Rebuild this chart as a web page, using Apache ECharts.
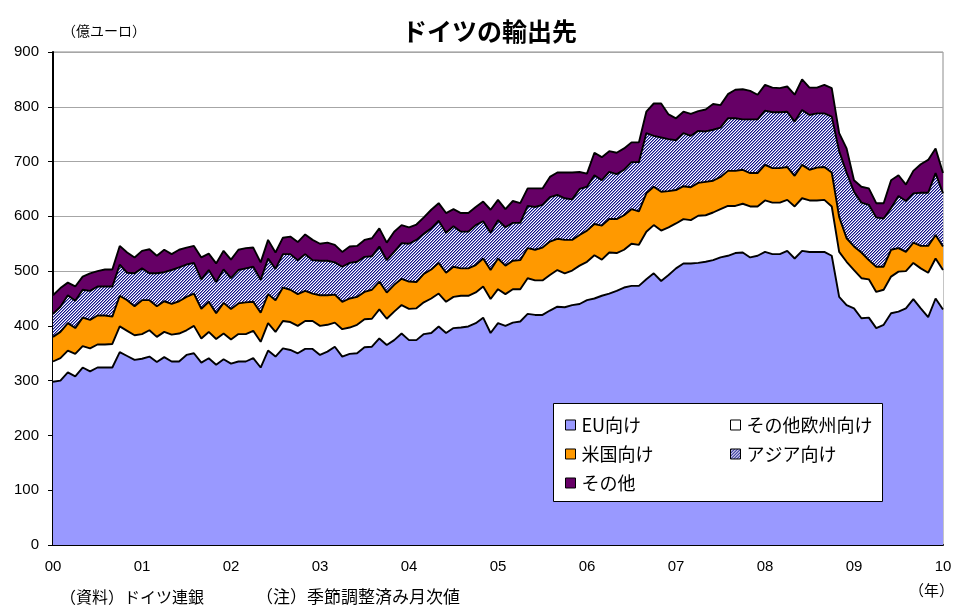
<!DOCTYPE html>
<html><head><meta charset="utf-8">
<script src="https://cdn.jsdelivr.net/npm/echarts@6/dist/echarts.min.js"></script>
<style>html,body{margin:0;padding:0;background:#fff}#c{width:955px;height:606px}</style>
</head><body><div id="c"></div>
<script>
// Tick labels (years) and monthly categories Jan 2000 .. Jan 2010
const yearLabels = ['00','01','02','03','04','05','06','07','08','09','10'];
const months = [];
for (let y = 2000; y <= 2010; y++) {
  for (let m = 1; m <= 12; m++) {
    if (y === 2010 && m > 1) break;
    months.push(y + '/' + m);
  }
}
const seriesNames = ['EU向け', 'その他欧州向け', '米国向け', 'アジア向け', 'その他'];

// 億ユーロ, seasonally adjusted monthly values
const eu = [
298,300,315,308,324,317,324,324,324,352,345,338,
340,344,334,343,335,335,347,350,333,341,329,339,
331,335,335,341,324,355,344,359,356,350,358,358,
347,353,362,344,349,350,361,362,377,365,374,386,
374,374,385,387,399,387,396,397,399,405,415,387,
405,400,406,408,422,420,420,428,435,434,438,440,
447,450,455,459,464,470,473,473,485,496,482,493,
505,514,514,515,517,520,525,528,533,534,525,528,
535,531,531,537,523,537,535,535,535,528,453,438,
432,414,415,396,402,423,426,432,449,432,416,450,
430];
const otherEurope = [
37,41,40,41,39,42,42,42,43,47,46,45,
45,48,46,46,49,51,45,50,44,48,47,47,
44,50,50,50,47,50,45,50,51,50,51,51,
53,49,44,50,48,52,51,51,53,48,52,52,
57,58,58,63,60,57,57,58,56,56,57,62,
62,58,61,59,65,63,63,65,67,62,63,70,
70,79,66,75,69,69,77,75,87,88,92,87,
82,81,79,86,85,87,88,91,86,89,93,90,
94,94,94,93,95,96,94,94,95,90,82,79,
70,73,70,66,64,67,73,68,66,73,81,73,
72];
const usa = [
45,48,50,47,52,52,53,53,50,56,56,53,
62,55,56,56,56,59,61,59,54,55,47,56,
56,56,58,53,53,53,58,61,59,58,55,50,
56,54,51,50,53,51,50,53,51,48,49,48,
50,48,52,53,56,53,55,50,50,50,51,53,
56,52,52,53,55,56,60,61,57,61,56,56,
57,57,62,61,62,63,63,61,70,70,71,66,
61,60,60,60,61,58,59,64,64,62,61,61,
65,63,63,60,56,61,56,60,60,62,64,43,
43,47,35,46,42,49,43,35,37,41,49,43,
43];
const asia = [
42,46,51,50,51,53,53,53,55,57,50,60,
58,49,60,53,62,62,59,56,54,58,57,61,
56,61,62,64,60,65,57,61,65,62,67,61,
63,63,59,64,65,64,64,61,64,59,60,65,
69,77,73,75,77,73,74,67,67,73,68,68,
70,70,69,68,77,78,78,81,80,76,74,84,
80,89,83,86,82,83,86,90,110,93,99,95,
91,97,94,95,92,93,90,96,96,92,98,98,
99,102,102,101,99,100,100,99,98,102,120,120,
100,91,101,90,88,76,95,93,90,97,97,113,
97];
const others = [
34,34,23,26,24,32,28,31,31,34,37,29,
32,44,32,41,29,32,31,31,40,30,34,34,
34,37,37,35,32,34,30,30,32,33,36,37,
31,33,32,27,30,29,31,33,33,32,37,33,
30,28,30,34,32,36,31,34,34,33,36,42,
37,33,40,36,32,34,30,37,41,47,49,31,
24,41,42,38,39,39,36,36,39,59,62,45,
40,39,40,36,40,47,41,44,52,55,52,45,
47,45,44,46,49,56,50,47,52,52,33,44,
21,29,30,26,28,51,38,30,41,52,60,45,
37];

function hatchCanvas() {
  const c = document.createElement('canvas');
  c.width = 3; c.height = 3;
  const ctx = c.getContext('2d');
  const img = ctx.createImageData(3, 3);
  const cols = [[20, 20, 130], [130, 130, 210], [255, 255, 255]];
  for (let y = 0; y < 3; y++) for (let x = 0; x < 3; x++) {
    const col = cols[(x + y) % 3];
    const i = (y * 3 + x) * 4;
    img.data[i] = col[0]; img.data[i + 1] = col[1]; img.data[i + 2] = col[2];
    img.data[i + 3] = 255;
  }
  ctx.putImageData(img, 0, 0);
  return c;
}
const hatch = { image: hatchCanvas(), repeat: 'repeat' };
const fills = ['#9999ff', '#ffffff', '#ff9900', hatch, '#660066'];
const values = [eu, otherEurope, usa, asia, others];

const jp = '"Noto Sans CJK JP", sans-serif';
const narrow = '"Liberation Sans Narrow", "Arial Narrow", "Liberation Sans", sans-serif';

const series = seriesNames.map((n, k) => ({
  name: n, type: 'line', stack: 'total', data: values[k],
  symbol: 'none', showSymbol: false, smooth: false,
  lineStyle: { color: '#000', width: 1.9 },
  areaStyle: { color: fills[k], opacity: 1 },
  itemStyle: { color: typeof fills[k] === 'string' ? fills[k] : '#8888cc' },
  emphasis: { disabled: true },
  z: 10 - k
}));

function legendItem(k) {
  return { name: seriesNames[k], icon: 'rect',
    itemStyle: { color: fills[k], borderColor: '#000', borderWidth: 1 } };
}
const legendCommon = {
  orient: 'vertical', itemWidth: 10, itemHeight: 10, itemGap: 11, z: 60,
  selectedMode: false, padding: 0,
  textStyle: { fontSize: 18, color: '#000', fontFamily: jp, padding: [0, 0, 0, 1] }
};

const chart = echarts.init(document.getElementById('c'), null, { renderer: 'canvas' });
chart.setOption({
  animation: false,
  backgroundColor: '#fff',
  title: {
    text: 'ドイツの輸出先', left: 397, top: 14,
    textStyle: { fontSize: 25, fontWeight: 'bold', color: '#000', fontFamily: jp }
  },
  grid: { left: 53, right: 12, top: 52, bottom: 61, show: true, borderColor: '#8c8c8c', borderWidth: 1, backgroundColor: 'transparent' },
  xAxis: {
    type: 'category', data: months, boundaryGap: false,
    axisLine: { lineStyle: { color: '#000', width: 2 } },
    axisTick: { show: false },
    axisLabel: {
      interval: (idx) => idx % 12 === 0,
      formatter: (v, idx) => yearLabels[idx / 12],
      margin: 14, fontSize: 15, color: '#000', fontFamily: narrow
    },
    splitLine: { show: false }
  },
  yAxis: {
    type: 'value', min: 0, max: 900, interval: 100,
    axisLine: { show: true, lineStyle: { color: '#000', width: 2 } },
    axisTick: { show: true, length: 5, lineStyle: { color: '#000' } },
    axisLabel: { margin: 14, fontSize: 15, color: '#000', fontFamily: narrow },
    splitLine: { lineStyle: { color: '#a6a6a6', width: 1 } }
  },
  legend: [
    Object.assign({}, legendCommon, { left: 565, top: 416, data: [legendItem(0), legendItem(2), legendItem(4)] }),
    Object.assign({}, legendCommon, { left: 730, top: 416, data: [legendItem(1), legendItem(3)] })
  ],
  graphic: [
    { type: 'rect', z: 50, shape: { x: 553.5, y: 403.5, width: 329, height: 98 },
      style: { fill: '#fff', stroke: '#000', lineWidth: 1 } },
    { type: 'text', x: 62, y: 31, z: 50,
      style: { text: '（億ユーロ）', font: '14px ' + jp, fill: '#000', textVerticalAlign: 'middle' } },
    { type: 'text', x: 60, y: 597, z: 50,
      style: { text: '（資料）ドイツ連銀', font: '16px ' + jp, fill: '#000', textVerticalAlign: 'middle' } },
    { type: 'text', x: 256, y: 597, z: 50,
      style: { text: '（注）季節調整済み月次値', font: '17px ' + jp, fill: '#000', textVerticalAlign: 'middle' } },
    { type: 'text', x: 954, y: 590, z: 50,
      style: { text: '（年）', font: '15px ' + jp, fill: '#000', textAlign: 'right', textVerticalAlign: 'middle' } }
  ],
  series: series
});
</script></body></html>
